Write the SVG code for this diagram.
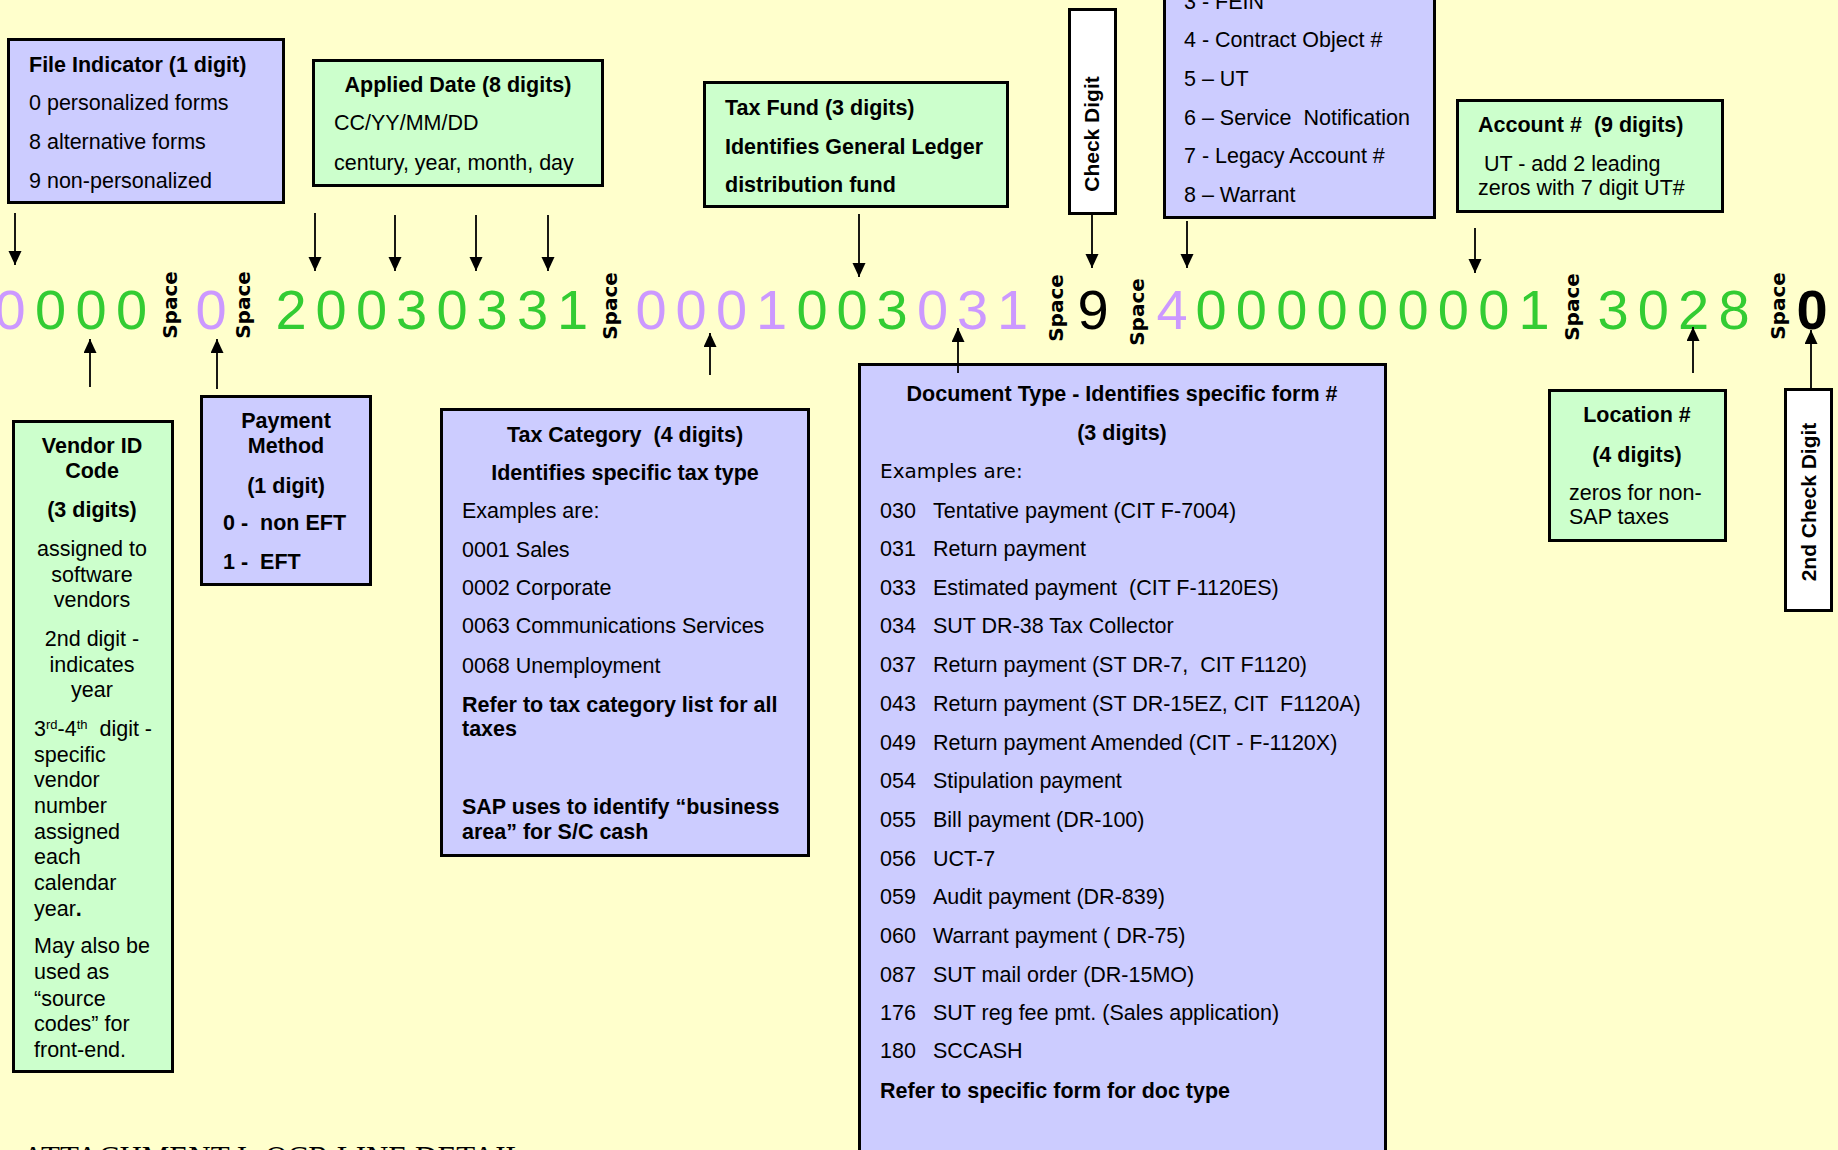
<svg xmlns="http://www.w3.org/2000/svg" width="1838" height="1150" viewBox="0 0 1838 1150">
<style>
text{white-space:pre}
.pb{fill:#CCCCFF;stroke:#000;stroke-width:3}
.gb{fill:#CCFFCC;stroke:#000;stroke-width:3}
.wb{fill:#FFFFFF;stroke:#000;stroke-width:3}
.t{font-family:"Liberation Sans",Arial,sans-serif;font-size:21.5px;fill:#000}
.b{font-weight:bold}
.c{text-anchor:middle}
.v{font-family:"DejaVu Sans",Verdana,sans-serif;font-size:20px;fill:#000}
.sp{font-family:"DejaVu Sans",Verdana,sans-serif;font-weight:bold;font-size:20px;text-anchor:middle;fill:#000}
.dg{font-family:"Liberation Sans",Arial,sans-serif;font-size:56px;text-anchor:middle}
.pu{fill:#CC99FF}.gr{fill:#33CC33}.bk{fill:#000}
.ar{stroke:#000;stroke-width:1.8;fill:none;marker-end:url(#ah)}
</style>
<defs>
<marker id="ah" markerUnits="userSpaceOnUse" markerWidth="15" markerHeight="14" refX="14" refY="6.5" orient="auto">
<path d="M0,0 L14,6.5 L0,13 Z" fill="#000"/>
</marker>
</defs>
<rect x="0" y="0" width="1838" height="1150" fill="#FFFFCC"/>

<g id="file-indicator">
<rect class="pb" x="8.5" y="39.5" width="275" height="163"/>
<text class="t b" x="29" y="72">File Indicator (1 digit)</text>
<text class="t" x="29" y="110">0 personalized forms</text>
<text class="t" x="29" y="149">8 alternative forms</text>
<text class="t" x="29" y="188">9 non-personalized</text>
</g>

<g id="applied-date">
<rect class="gb" x="313.5" y="60.5" width="289" height="125"/>
<text class="t b c" x="458" y="92">Applied Date (8 digits)</text>
<text class="t" x="334" y="130">CC/YY/MM/DD</text>
<text class="t" x="334" y="170">century, year, month, day</text>
</g>

<g id="tax-fund">
<rect class="gb" x="704.5" y="82.5" width="303" height="124"/>
<text class="t b" x="725" y="115">Tax Fund (3 digits)</text>
<text class="t b" x="725" y="154">Identifies General Ledger</text>
<text class="t b" x="725" y="192">distribution fund</text>
</g>

<g id="check-digit">
<rect class="wb" x="1069.5" y="9.5" width="46" height="204"/>
<text class="t b c" style="font-size:21px" transform="translate(1099,134) rotate(-90)" x="0" y="0">Check Digit</text>
</g>

<g id="id-type">
<rect class="pb" x="1164.5" y="-10" width="270" height="227.5"/>
<text class="t" x="1184" y="9">3 - FEIN</text>
<text class="t" x="1184" y="47">4 - Contract Object #</text>
<text class="t" x="1184" y="86">5 – UT</text>
<text class="t" x="1184" y="125">6 – Service  Notification</text>
<text class="t" x="1184" y="163">7 - Legacy Account #</text>
<text class="t" x="1184" y="202">8 – Warrant</text>
</g>

<g id="account">
<rect class="gb" x="1457.5" y="100.5" width="265" height="111"/>
<text class="t b" x="1478" y="132">Account #  (9 digits)</text>
<text class="t" x="1478" y="171"> UT - add 2 leading</text>
<text class="t" x="1478" y="195">zeros with 7 digit UT#</text>
</g>

<g id="vendor-id">
<rect class="gb" x="13.5" y="421.5" width="159" height="650"/>
<text class="t b c" x="92" y="453">Vendor ID</text>
<text class="t b c" x="92" y="478">Code</text>
<text class="t b c" x="92" y="517">(3 digits)</text>
<text class="t c" x="92" y="556">assigned to</text>
<text class="t c" x="92" y="582">software</text>
<text class="t c" x="92" y="607">vendors</text>
<text class="t c" x="92" y="646">2nd digit -</text>
<text class="t c" x="92" y="672">indicates</text>
<text class="t c" x="92" y="697">year</text>
<text class="t" x="34" y="736">3<tspan style="font-size:13px" dy="-7">rd</tspan><tspan dy="7">-4</tspan><tspan style="font-size:13px" dy="-7">th</tspan><tspan dy="7">  digit -</tspan></text>
<text class="t" x="34" y="762">specific</text>
<text class="t" x="34" y="787">vendor</text>
<text class="t" x="34" y="813">number</text>
<text class="t" x="34" y="839">assigned</text>
<text class="t" x="34" y="864">each</text>
<text class="t" x="34" y="890">calendar</text>
<text class="t" x="34" y="916">year<tspan class="b">.</tspan></text>
<text class="t" x="34" y="953">May also be</text>
<text class="t" x="34" y="979">used as</text>
<text class="t" x="34" y="1006">“source</text>
<text class="t" x="34" y="1031">codes” for</text>
<text class="t" x="34" y="1057">front-end.</text>
</g>

<g id="payment-method">
<rect class="pb" x="201.5" y="396.5" width="169" height="188"/>
<text class="t b c" x="286" y="428">Payment</text>
<text class="t b c" x="286" y="453">Method</text>
<text class="t b c" x="286" y="493">(1 digit)</text>
<text class="t b" x="223" y="530">0 -  non EFT</text>
<text class="t b" x="223" y="569">1 -  EFT</text>
</g>

<g id="tax-category">
<rect class="pb" x="441.5" y="409.5" width="367" height="446"/>
<text class="t b c" x="625" y="442">Tax Category  (4 digits)</text>
<text class="t b c" x="625" y="480">Identifies specific tax type</text>
<text class="t" x="462" y="518">Examples are:</text>
<text class="t" x="462" y="557">0001 Sales</text>
<text class="t" x="462" y="595">0002 Corporate</text>
<text class="t" x="462" y="633">0063 Communications Services</text>
<text class="t" x="462" y="673">0068 Unemployment</text>
<text class="t b" x="462" y="712">Refer to tax category list for all</text>
<text class="t b" x="462" y="736">taxes</text>
<text class="t b" x="462" y="814">SAP uses to identify “business</text>
<text class="t b" x="462" y="839">area” for S/C cash</text>
</g>

<g id="document-type">
<rect class="pb" x="859.5" y="364.5" width="526" height="800"/>
<text class="t b c" x="1122" y="401">Document Type - Identifies specific form #</text>
<text class="t b c" x="1122" y="440">(3 digits)</text>
<text class="v" x="880" y="478">Examples are:</text>
<text class="t" x="880" y="518">030</text><text class="t" x="933" y="518">Tentative payment (CIT F-7004)</text>
<text class="t" x="880" y="556">031</text><text class="t" x="933" y="556">Return payment</text>
<text class="t" x="880" y="595">033</text><text class="t" x="933" y="595">Estimated payment  (CIT F-1120ES)</text>
<text class="t" x="880" y="633">034</text><text class="t" x="933" y="633">SUT DR-38 Tax Collector</text>
<text class="t" x="880" y="672">037</text><text class="t" x="933" y="672">Return payment (ST DR-7,  CIT F1120)</text>
<text class="t" x="880" y="711">043</text><text class="t" x="933" y="711">Return payment (ST DR-15EZ, CIT  F1120A)</text>
<text class="t" x="880" y="750">049</text><text class="t" x="933" y="750">Return payment Amended (CIT - F-1120X)</text>
<text class="t" x="880" y="788">054</text><text class="t" x="933" y="788">Stipulation payment</text>
<text class="t" x="880" y="827">055</text><text class="t" x="933" y="827">Bill payment (DR-100)</text>
<text class="t" x="880" y="866">056</text><text class="t" x="933" y="866">UCT-7</text>
<text class="t" x="880" y="904">059</text><text class="t" x="933" y="904">Audit payment (DR-839)</text>
<text class="t" x="880" y="943">060</text><text class="t" x="933" y="943">Warrant payment ( DR-75)</text>
<text class="t" x="880" y="982">087</text><text class="t" x="933" y="982">SUT mail order (DR-15MO)</text>
<text class="t" x="880" y="1020">176</text><text class="t" x="933" y="1020">SUT reg fee pmt. (Sales application)</text>
<text class="t" x="880" y="1058">180</text><text class="t" x="933" y="1058">SCCASH</text>
<text class="t b" x="880" y="1098">Refer to specific form for doc type</text>
</g>

<g id="location">
<rect class="gb" x="1549.5" y="390.5" width="176" height="150"/>
<text class="t b c" x="1637" y="422">Location #</text>
<text class="t b c" x="1637" y="462">(4 digits)</text>
<text class="t" x="1569" y="500">zeros for non-</text>
<text class="t" x="1569" y="524">SAP taxes</text>
</g>

<g id="second-check-digit">
<rect class="wb" x="1785.5" y="389.5" width="46" height="221"/>
<text class="t b c" style="font-size:21px" transform="translate(1816,502) rotate(-90)" x="0" y="0">2nd Check Digit</text>
</g>

<g id="ocr-line">
<text class="dg"><tspan class="pu" x="10" y="329">0</tspan><tspan class="gr" x="50.5 91 131.5" y="329">000</tspan></text>
<text class="dg pu" x="211" y="329">0</text>
<text class="dg gr" x="291 331 371.5 411.5 452 492 532.5 572.5" y="329">20030331</text>
<text class="dg"><tspan class="pu" x="651 691 731.5 771.5" y="329">0001</tspan><tspan class="gr" x="812 852 892" y="329">003</tspan><tspan class="pu" x="932.5 972.5 1012.5" y="329">031</tspan></text>
<text class="dg bk" x="1093" y="329">9</text>
<text class="dg pu" x="1172" y="329">4</text>
<text class="dg gr" x="1211 1251.4 1291.8 1332.2 1372.6 1413 1453.4 1493.8 1534.2" y="329">000000001</text>
<text class="dg gr" x="1613 1653.3 1693.6 1734" y="329">3028</text>
<text class="dg bk b" x="1812" y="329">0</text>
<text class="sp" transform="translate(177,305) rotate(-90)">Space</text>
<text class="sp" transform="translate(250,305) rotate(-90)">Space</text>
<text class="sp" transform="translate(617,306) rotate(-90)">Space</text>
<text class="sp" transform="translate(1063,308) rotate(-90)">Space</text>
<text class="sp" transform="translate(1144,312) rotate(-90)">Space</text>
<text class="sp" transform="translate(1579,307) rotate(-90)">Space</text>
<text class="sp" transform="translate(1785,306) rotate(-90)">Space</text>
</g>

<g id="connectors">
<line class="ar" x1="15" y1="213" x2="15" y2="265"/>
<line class="ar" x1="315" y1="213" x2="315" y2="271"/>
<line class="ar" x1="395" y1="215" x2="395" y2="271"/>
<line class="ar" x1="476" y1="215" x2="476" y2="271"/>
<line class="ar" x1="548" y1="215" x2="548" y2="271"/>
<line class="ar" x1="859" y1="214" x2="859" y2="277"/>
<line class="ar" x1="1092" y1="215" x2="1092" y2="268"/>
<line class="ar" x1="1187" y1="221" x2="1187" y2="268"/>
<line class="ar" x1="1475" y1="228" x2="1475" y2="273"/>
<line class="ar" x1="90" y1="387" x2="90" y2="339"/>
<line class="ar" x1="217" y1="389" x2="217" y2="339"/>
<line class="ar" x1="710" y1="375" x2="710" y2="333"/>
<line class="ar" x1="958" y1="373" x2="958" y2="328"/>
<line class="ar" x1="1693" y1="373" x2="1693" y2="327"/>
<line class="ar" x1="1811" y1="388" x2="1811" y2="330"/>
</g>

<text x="22" y="1168" style="font-family:'Liberation Serif','Times New Roman',serif;font-size:31px;fill:#000">ATTACHMENT I- OCR LINE DETAIL</text>
</svg>
